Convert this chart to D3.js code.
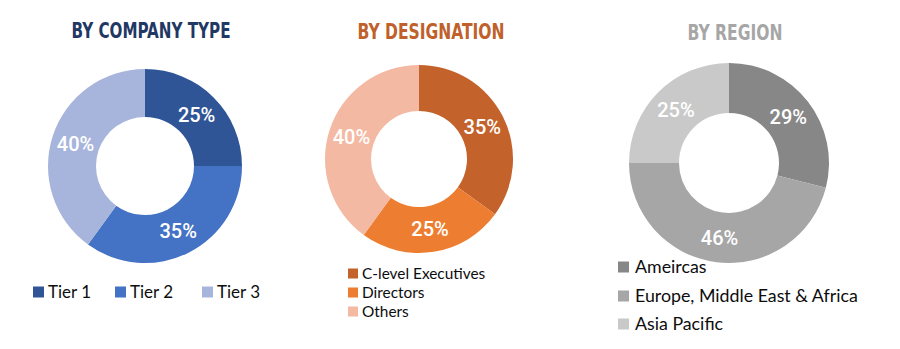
<!DOCTYPE html>
<html><head><meta charset="utf-8">
<script src="https://cdn.jsdelivr.net/npm/d3@7"></script>
<style>body{margin:0;background:#fff}svg{display:block}</style>
</head><body>
<svg id="c" width="900" height="349"></svg>
<script>
// Data
const companyCategories = ["Tier 1", "Tier 2", "Tier 3"];
const companyValues = [25, 35, 40];
const designationCategories = ["C-level Executives", "Directors", "Others"];
const designationValues = [35, 25, 40];
const regionCategories = ["Ameircas", "Europe, Middle East & Africa", "Asia Pacific"];
const regionValues = [29, 46, 25];
const titles = ["BY COMPANY TYPE", "BY DESIGNATION", "BY REGION"];

const svg = d3.select("#c");

const charts = [
  {title: titles[0], cats: companyCategories, vals: companyValues,
   colors: ["#2f5597", "#4472c4", "#a7b5dc"], titleColor: "#1f3864",
   cx: 145, cy: 166, ro: 97, ri: 49, titleX: 151, titleY: 38, titleW: 159,
   legend: {type: "row", xs: [33, 115, 202], y: 298, size: 11, font: 17, gap: 15}},
  {title: titles[1], cats: designationCategories, vals: designationValues,
   colors: ["#c4622b", "#ed7d31", "#f4b9a2"], titleColor: "#c0602a",
   cx: 419, cy: 159, ro: 94, ri: 48, titleX: 431, titleY: 39, titleW: 147,
   legend: {type: "col", x: 348, ys: [279, 298, 317], size: 10, font: 15.4, gap: 14}},
  {title: titles[2], cats: regionCategories, vals: regionValues,
   colors: ["#878787", "#a6a6a6", "#c9c9c9"], titleColor: "#a6a6a6",
   cx: 729, cy: 163, ro: 100, ri: 50, titleX: 735, titleY: 40, titleW: 95,
   legend: {type: "col", x: 618, ys: [273, 302, 330], size: 11, font: 17.8, gap: 17}}
];

charts.forEach(ch => {
  const g = svg.append("g");
  g.append("text")
    .attr("x", ch.titleX).attr("y", ch.titleY)
    .attr("text-anchor", "middle")
    .attr("font-family", "'Liberation Sans Narrow', 'DejaVu Sans Condensed', sans-serif")
    .attr("font-weight", "bold").attr("font-size", 21)
    .attr("fill", ch.titleColor)
    .attr("textLength", ch.titleW).attr("lengthAdjust", "spacingAndGlyphs")
    .text(ch.title);

  const pie = d3.pie().sort(null).value(d => d)(ch.vals);
  const arc = d3.arc().innerRadius(ch.ri).outerRadius(ch.ro);
  const pg = g.append("g").attr("transform", `translate(${ch.cx},${ch.cy})`);
  pg.selectAll("path").data(pie).join("path")
    .attr("d", arc)
    .attr("fill", (d, i) => ch.colors[i]);
  pg.selectAll("text").data(pie).join("text")
    .attr("transform", d => `translate(${arc.centroid(d)})`)
    .attr("text-anchor", "middle").attr("dy", "0.36em")
    .attr("font-family", "Roboto, sans-serif").attr("font-size", 20)
    .attr("font-weight", 500)
    .attr("fill", "#fff")
    .text(d => d.data + "%");

  const L = ch.legend;
  ch.cats.forEach((c, i) => {
    const x = L.type === "row" ? L.xs[i] : L.x;
    const y = L.type === "row" ? L.y : L.ys[i];
    g.append("rect").attr("x", x).attr("y", y - L.size - 0.5)
      .attr("width", L.size).attr("height", L.size).attr("fill", ch.colors[i]);
    g.append("text").attr("x", x + L.gap).attr("y", y)
      .attr("font-family", "Lato, 'Open Sans', sans-serif").attr("font-size", L.font)
      .attr("fill", "#0d0d0d")
      .text(c);
  });
});
</script>
</body></html>
